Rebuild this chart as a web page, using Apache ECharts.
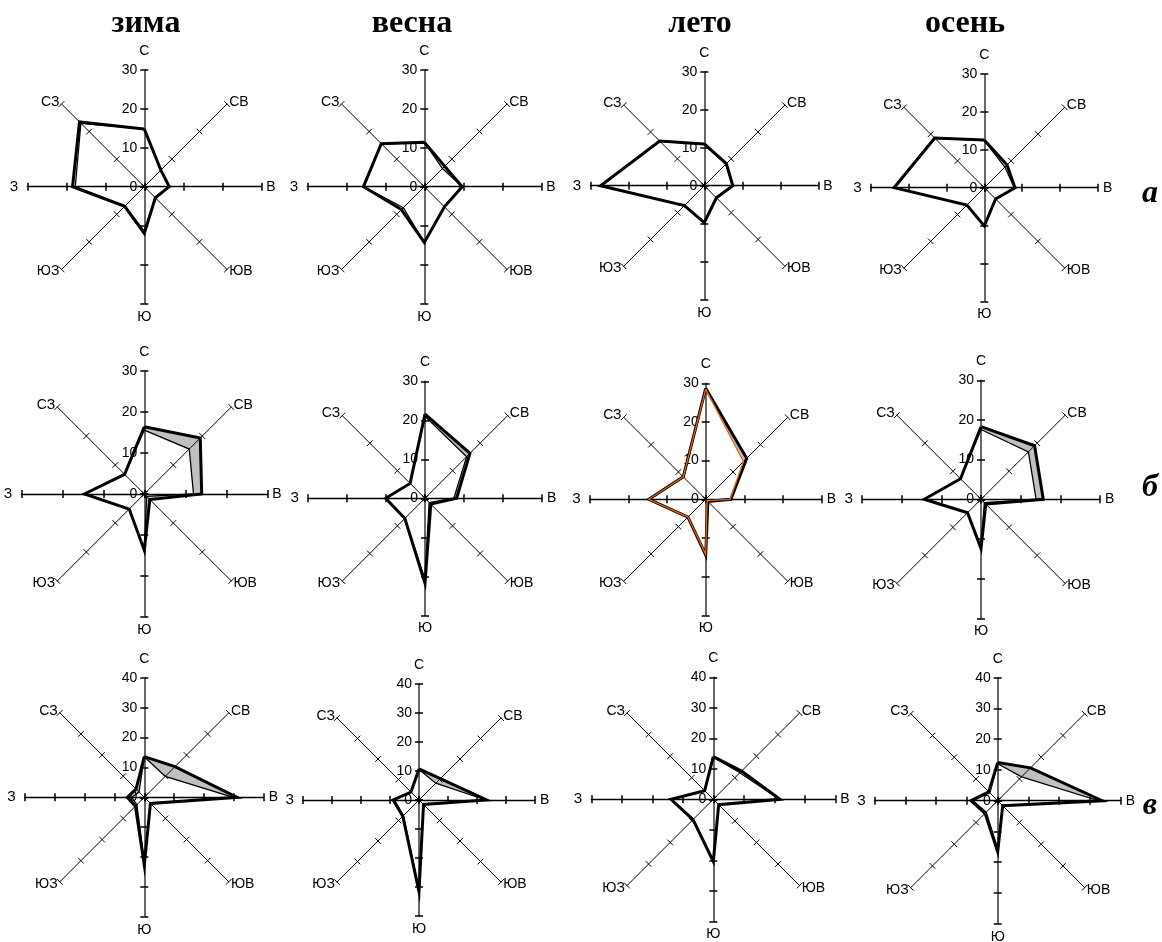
<!DOCTYPE html>
<html><head><meta charset="utf-8">
<script src="https://cdn.jsdelivr.net/npm/echarts@6/dist/echarts.min.js"></script>
<style>html,body{margin:0;padding:0;background:#fff}#c{width:1162px;height:942px}</style>
</head><body><div id="c"></div>
<script>
// Directions listed clockwise from north
const directions = ['С','СВ','В','ЮВ','Ю','ЮЗ','З','СЗ'];
const seasons = ['зима','весна','лето','осень'];
const rowLabels = ['а','б','в'];
const rowMax = [30, 30, 40];
const tickStep = 10;

// Row а
const zimaA_thick = [14.8, 6.0, 6.4, 4.0, 12.0, 7.1, 18.4, 23.5];
const zimaA_thin  = [14.8, 6.0, 6.4, 4.0, 11.4, 7.0, 17.7, 23.0];
const vesnaA_thick = [11.4, 7.4, 9.7, 7.3, 14.3, 8.3, 15.6, 15.6];
const vesnaA_thin  = [11.4, 6.6, 9.7, 7.3, 14.3, 7.6, 15.6, 15.6];
const letoA_thick = [11.0, 8.2, 7.5, 4.5, 9.7, 7.4, 27.3, 16.6];
const letoA_thin  = [10.8, 8.0, 7.4, 4.5, 9.7, 7.4, 27.3, 16.6];
const osenA_thick = [12.6, 8.5, 8.1, 4.2, 10.1, 6.5, 23.8, 18.5];
const osenA_thin  = [12.4, 7.7, 7.9, 4.2, 10.1, 6.5, 23.8, 18.5];
// Row б
const zimaB_thick = [16.4, 19.3, 14.0, 1.9, 13.7, 5.2, 14.6, 6.8];
const zimaB_thin  = [15.6, 15.5, 12.0, 0.8, 13.7, 5.2, 14.6, 6.8];
const vesnaB_thick = [21.6, 16.3, 8.1, 2.1, 21.8, 7.3, 10.1, 5.4];
const vesnaB_thin  = [21.0, 15.1, 7.4, 1.5, 20.8, 7.3, 10.1, 5.4];
const letoB_thick = [28.7, 15.0, 6.5, 0.8, 14.4, 6.5, 14.7, 8.2];
const letoB_thin  = [28.5, 13.8, 6.3, 0.5, 14.2, 6.5, 14.7, 8.2];
const osenB_thick = [18.3, 19.1, 15.7, 1.7, 12.4, 4.8, 14.3, 7.3];
const osenB_thin  = [17.6, 16.9, 13.9, 1.2, 12.4, 4.8, 14.3, 7.3];
// Row в
const zimaV_thick = [13.6, 14.5, 31.1, 2.9, 22.7, 4.2, 5.7, 3.9];
const zimaV_thin  = [13.6, 9.9, 29.8, 2.9, 21.5, 3.5, 4.2, 2.5];
const vesnaV_thick = [10.7, 10.4, 23.3, 2.2, 31.6, 7.9, 8.9, 3.9];
const vesnaV_thin  = [10.5, 8.2, 23.0, 2.2, 31.0, 7.6, 8.5, 3.9];
const letoV_thick = [14.0, 13.1, 21.9, 2.5, 20.4, 9.4, 13.9, 4.0];
const letoV_thin  = [13.8, 12.3, 21.6, 2.5, 20.2, 9.2, 13.7, 4.0];
const osenV_thick = [12.4, 15.1, 34.0, 2.3, 16.6, 5.8, 8.7, 4.1];
const osenV_thin  = [12.0, 11.0, 32.8, 2.3, 15.6, 5.3, 8.0, 3.6];

const panelData = [
  [zimaA_thick, zimaA_thin], [vesnaA_thick, vesnaA_thin], [letoA_thick, letoA_thin], [osenA_thick, osenA_thin],
  [zimaB_thick, zimaB_thin], [vesnaB_thick, vesnaB_thin], [letoB_thick, letoB_thin], [osenB_thick, osenB_thin],
  [zimaV_thick, zimaV_thin], [vesnaV_thick, vesnaV_thin], [letoV_thick, letoV_thin], [osenV_thick, osenV_thin]
];

// Layout (positions / sizes)
const layout = [
  [144.3,186.7,117],[424.3,186.7,117],[704.3,185.7,114],[984.3,187.7,113.7],
  [144.3,494,123],[425,498.3,117],[705.7,499.3,116],[981,499.3,119],
  [144.3,797.3,119.5],[419,800,116],[713.3,799.3,122],[997.7,800.7,123]
];
const titlePos = [[146,24],[412,24],[700,24],[965,24]];
const rowLabelPos = [[1150,194],[1150,488],[1150,806]];
const nameGaps = [12, 3, 5, 3, 6, 3, 9, 3];
const sans = '"Liberation Sans", Arial, sans-serif';
const serif = '"Liberation Serif", "Times New Roman", serif';

// ECharts places indicators counter-clockwise; reorder clockwise list
const ccw = [0,7,6,5,4,3,2,1];
const reorder = arr => ccw.map(i => arr[i]);

function indicators(max, main) {
  return ccw.map(i => {
    const ind = { name: directions[i], min: 0, max: max, nameGap: nameGaps[i] };
    const vertical = (i === 0 || i === 4), horizontal = (i === 2 || i === 6);
    const ls = vertical ? {color:'#444', width:1.6} : horizontal ? {color:'#000', width:1.3} : {color:'#000', width:1};
    ind.axisLine = { show: main, lineStyle: ls };
    ind.axisTick = { lineStyle: {color:'#000', width: (vertical||horizontal) ? 1.5 : 1} };
    ind.axisLabel = { show: main && i === 0 };
    return ind;
  });
}

const radars = [], series = [];
layout.forEach((p, k) => {
  const row = Math.floor(k / 4);
  const max = rowMax[row];
  const split = max / tickStep;
  const base = { center: [p[0], p[1]], radius: p[2], startAngle: 90, shape: 'polygon', splitNumber: split,
    splitLine: {show:false}, splitArea: {show:false}, silent: true };
  radars.push(Object.assign({}, base, {
    z: 2,
    indicator: indicators(max, true),
    axisName: { show: true, color: '#000', fontSize: 14, fontFamily: sans },
    axisNameGap: 5,
    axisLine: { show: true, lineStyle: {color:'#000', width:1} },
    axisTick: { show: true, length: 4, lineStyle: {color:'#000', width:1} },
    axisLabel: { show: false, color: '#000', fontSize: 14, fontFamily: sans, margin: 7 }
  }));
  radars.push(Object.assign({}, base, {
    z: 2,
    indicator: indicators(max, false),
    axisName: { show: false },
    axisLine: { show: false },
    axisTick: { show: true, length: -4, lineStyle: {color:'#000', width:1} },
    axisLabel: { show: false }
  }));
  const ri = 2 * k;
  const [thick, thin] = panelData[k];
  if (row > 0) {
    series.push({ type:'radar', radarIndex: ri, z: 1, symbol: 'none', silent: true,
      data: [{ value: reorder(thick), lineStyle: {opacity: 0, width: 0}, areaStyle: {color:'#c0c0c0', opacity: 1} }] });
    series.push({ type:'radar', radarIndex: ri, z: 1, symbol: 'none', silent: true,
      data: [{ value: reorder(thin), lineStyle: {opacity: 0, width: 0}, areaStyle: {color:'#ffffff', opacity: 1} }] });
  }
  const thinColor = (k === 6) ? '#e8630a' : '#000';
  series.push({ type:'radar', radarIndex: ri, z: 3, symbol: 'none', silent: true,
    data: [
      { value: reorder(thick), lineStyle: {color:'#000', width: 3, join: 'miter'} },
      { value: reorder(thin), lineStyle: {color: thinColor, width: 1.3, join: 'miter'} }
    ] });
});

const graphics = [];
seasons.forEach((s, i) => graphics.push({ type:'text', x: titlePos[i][0], y: titlePos[i][1], z: 10,
  style: { text: s, font: 'bold 32px ' + serif, fill: '#000', textAlign: 'center', textVerticalAlign: 'middle' } }));
rowLabels.forEach((s, i) => graphics.push({ type:'text', x: rowLabelPos[i][0], y: rowLabelPos[i][1], z: 10,
  style: { text: s, font: 'italic bold 32px ' + serif, fill: '#000', textAlign: 'center', textVerticalAlign: 'middle' } }));

const chart = echarts.init(document.getElementById('c'), null, {renderer: 'canvas'});
chart.setOption({ animation: false, backgroundColor: '#fff', radar: radars, series: series, graphic: graphics });
</script></body></html>
